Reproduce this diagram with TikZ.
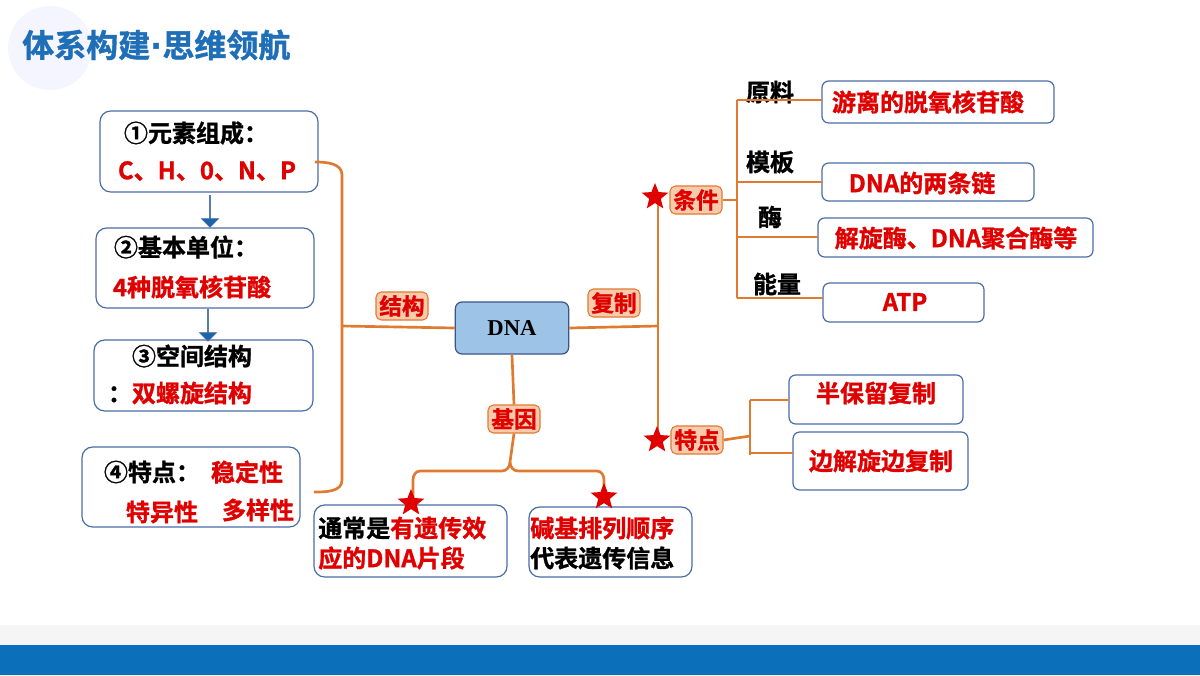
\documentclass[tikz,border=0pt]{standalone}
\usepackage{fontspec}
\setmainfont{Noto Sans CJK SC}[BoldFont={Noto Sans CJK SC Bold},BoldFeatures={FakeBold=1.2}]
\usetikzlibrary{shapes.geometric,shapes.arrows}
\definecolor{ttl}{HTML}{1F6FB8}
\definecolor{bar}{HTML}{0B6FBA}
\definecolor{org}{HTML}{E07A30}
\definecolor{peach}{HTML}{F8CBAD}
\definecolor{bx}{HTML}{4A6CA8}
\definecolor{rd}{HTML}{E00000}
\definecolor{dnaf}{HTML}{9DC3E6}
\begin{document}
\begin{tikzpicture}[x=0.75pt,y=-0.75pt,
  box/.style={draw=bx,line width=0.9pt,rounded corners=8pt},
  lab/.style={draw=org,fill=peach,rounded corners=4pt,line width=0.8pt,text=rd,font=\bfseries\fontsize{17}{20}\selectfont,inner sep=2.5pt},
  ln/.style={draw=org,line width=2pt},
  t/.style={font=\bfseries\fontsize{18}{21}\selectfont,inner sep=0pt},
  r/.style={t,text=rd},
  st/.style={star,star points=5,star point ratio=2.3,fill=rd,inner sep=0pt,minimum size=21pt},
  ba/.style={single arrow,draw=bx,fill=ttl!90!black,shape border rotate=270,minimum height=24pt,single arrow head extend=3pt,minimum width=13pt,inner sep=0pt}]
\useasboundingbox (0,0) rectangle (1200,675);
\fill[white] (0,0) rectangle (1200,675);
\fill[blue!4] (50,48) circle (42);
\fill[gray!8] (0,625) rectangle (1200,645);
\fill[bar] (0,645) rectangle (1200,675);
\node[anchor=west,text=ttl,font=\bfseries\fontsize{24}{28}\selectfont,inner sep=0pt] (title) at (22,45) {体系构建{\fontspec{DejaVu Sans}\bfseries ·}思维领航};
% left boxes
\draw[box] (100,111) rectangle (318,192);
\node[t] (b1a) at (196,133) {①元素组成：};
\node[r] (b1b) at (207,171) {C、H、0、N、P};
\node[ba] (a1) at (210,211) {};
\draw[box] (96,228) rectangle (314,308);
\node[t] (b2a) at (186,247) {②基本单位：};
\node[r] (b2b) at (192,287) {4种脱氧核苷酸};
\node[ba] (a2) at (208,325) {};
\draw[box] (94,340) rectangle (313,411);
\node[t] (b3a) at (192,356) {③空间结构};
\node[t] (b3b) at (180,393) {：\textcolor{rd}{双螺旋结构}};
\draw[box] (82,447) rectangle (300,527);
\node[t] (b4a) at (152,472) {④特点：};
\node[r] (b4b) at (247,472) {稳定性};
\node[r] (b4c) at (162,512) {特异性};
\node[r] (b4d) at (258,510) {多样性};
% center
\node[draw=bx!80!black,fill=dnaf,line width=0.9pt,rounded corners=5pt,minimum width=85pt,minimum height=39pt] (dna) at (512,328) {\fontspec{Liberation Serif}\bfseries\fontsize{17}{20}\selectfont DNA};
\coordinate (bl) at (342,326);
\draw[ln] (315,162) to[out=0,in=90] (342,175) -- (342,480) to[out=270,in=0] (314,492);
\draw[ln] (bl) -- (dna.west);
\node[lab] (jg) at (402,306) {结构};
\node[lab] (fz) at (614,303) {复制};
\coordinate (vr) at (658,326);
\draw[ln] (dna.east) -- (vr);
\draw[ln] (658,200) -- (658,440);
\node[lab] (tj) at (696,200) {条件};
\node[lab] (td) at (697,440) {特点};
\node[st] at (655,197) {};
\node[st] at (657,440) {};
\draw[ln] (tj.east) -- (737,200);
\draw[ln] (737,100) -- (737,298);
\node[t] (l1) at (770,92) {原料};
\node[t] (l2) at (770,162) {模板};
\node[t] (l3) at (770,217) {酶};
\node[t] (l4) at (777,284) {能量};
\draw[box,rounded corners=5pt] (822,81) rectangle (1054,123);
\node[r] (c1) at (928,102) {游离的脱氧核苷酸};
\draw[box,rounded corners=5pt] (822,163) rectangle (1034,201);
\node[r] (c2) at (922,183) {DNA的两条链};
\draw[box,rounded corners=5pt] (818,218) rectangle (1093,257);
\node[r] (c3) at (956,238) {解旋酶、DNA聚合酶等};
\draw[box,rounded corners=5pt] (823,283) rectangle (984,322);
\node[r] (c4) at (905,302) {ATP};
\draw[ln] (737,100) -- (822,100);
\draw[ln] (737,182) -- (822,182);
\draw[ln] (737,237) -- (818,237);
\draw[ln] (737,298) -- (823,298);
\draw[box,rounded corners=5pt] (789,375) rectangle (963,424);
\node[r] (d1) at (876,393) {半保留复制};
\draw[box,rounded corners=5pt] (793,432) rectangle (968,490);
\node[r] (d2) at (881,461) {边解旋边复制};
\draw[ln] (td.east) -- (750,436);
\draw[ln] (750,400) -- (750,455);
\draw[ln] (750,400) -- (789,400);
\draw[ln] (750,453) -- (793,453);
% gene
\node[lab] (jy) at (514,419) {基因};
\draw[ln] (dna.south) -- (jy.north);
\draw[ln] (jy.south) -- (510,462) to[out=270,in=0] (502,471) -- (420,471) to[out=180,in=90] (413,480) -- (413,500);
\draw[ln] (510,462) to[out=270,in=180] (518,471) -- (597,471) to[out=0,in=90] (604,480) -- (604,498);
\draw[box] (314,505) rectangle (507,577);
\node[t,anchor=west] (g1) at (318,528) {通常是\textcolor{rd}{有遗传效}};
\node[r,anchor=west] (g2) at (318,558) {应的DNA片段};
\draw[box] (529,507) rectangle (692,577);
\node[r,anchor=west] (h1) at (530,528) {碱基排列顺序};
\node[t,anchor=west] (h2) at (530,558) {代表遗传信息};
\node[st] at (411,503) {};
\node[st] at (604,497) {};
\end{tikzpicture}
\end{document}
